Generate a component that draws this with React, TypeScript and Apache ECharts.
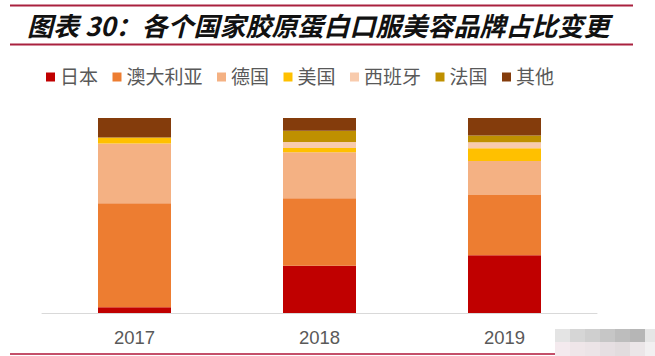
import React, { useEffect, useRef } from "react";
import * as echarts from "echarts";

const titleText = "图表 30：各个国家胶原蛋白口服美容品牌占比变更";
const years = ["2017", "2018", "2019"];
const seriesNames = ["日本", "澳大利亚", "德国", "美国", "西班牙", "法国", "其他"];
const japan = [3.0, 24.2, 29.6];
const australia = [53.3, 34.6, 30.9];
const germany = [30.6, 23.7, 17.5];
const usa = [3.1, 2.1, 6.5];
const spain = [0, 3.1, 3.1];
const france = [0, 5.8, 3.4];
const other = [10.0, 6.5, 9.0];
const colors = ["#C00000", "#ED7D31", "#F4B183", "#FFC000", "#F8CBAD", "#BF9000", "#843C0C"];

export default function App() {
  const ref = useRef<HTMLDivElement>(null);
  useEffect(() => {
    if (!ref.current) return;
    document.body.style.margin = "0";
    const chart = echarts.init(ref.current, undefined, { renderer: "svg" });
    const values = [japan, australia, germany, usa, spain, france, other];
    const font = '"Liberation Sans", "Noto Sans CJK SC", sans-serif';
    const mosaic1 = ["#e4e4e4", "#d6d6d6", "#cfcfcf", "#c6c6c6", "#bdbdbd", "#b6b6b6", "#e6e6e6"];
    const mosaic2 = ["#f4eaee", "#efe6e9", "#ece4e7", "#e6dfe2", "#e2dcde", "#ebe6e8", "#f2f0f1"];
    const mosaic: any[] = [];
    mosaic1.forEach((c, i) =>
      mosaic.push({ type: "rect", shape: { x: 555 + i * 15, y: 329, width: 15, height: 13 }, style: { fill: c } })
    );
    mosaic2.forEach((c, i) =>
      mosaic.push({ type: "rect", shape: { x: 555 + i * 15, y: 342, width: 15, height: 14 }, style: { fill: c } })
    );
    chart.setOption({
      animation: false,
      color: colors,
      grid: { left: 42, right: 58, top: 118, bottom: 43 },
      legend: {
        left: 41,
        top: 62,
        icon: "rect",
        itemWidth: 9,
        itemHeight: 9,
        itemGap: 14.5,
        data: seriesNames,
        textStyle: { color: "#595959", fontSize: 19, fontFamily: font, lineHeight: 20 },
      },
      xAxis: {
        type: "category",
        data: years,
        axisLine: { lineStyle: { color: "#d9d9d9", width: 1 } },
        axisTick: { show: false },
        axisLabel: { color: "#595959", fontSize: 18.5, fontFamily: font, margin: 15 },
      },
      yAxis: { type: "value", min: 0, max: 100, show: false, splitLine: { show: false } },
      series: seriesNames.map((name, i) => ({
        name,
        type: "bar",
        stack: "total",
        barWidth: 73,
        data: values[i],
        itemStyle: { color: colors[i] },
      })),
      graphic: [
        { type: "line", shape: { x1: 10, y1: 5.5, x2: 633, y2: 5.5 }, style: { stroke: "#A9213F", lineWidth: 2 } },
        { type: "line", shape: { x1: 10, y1: 44.5, x2: 633, y2: 44.5 }, style: { stroke: "#A9213F", lineWidth: 2 } },
        {
          type: "text",
          left: 27,
          top: 11,
          style: {
            text: titleText,
            fill: "#111111",
            font: 'italic bold 26px "Noto Sans CJK SC", sans-serif',
          },
        },
        { type: "line", shape: { x1: 10, y1: 354, x2: 555, y2: 354 }, style: { stroke: "#C4506A", lineWidth: 2 } },
        ...mosaic,
      ],
    });
    return () => chart.dispose();
  }, []);
  return <div ref={ref} style={{ width: 655, height: 356 }} />;
}
